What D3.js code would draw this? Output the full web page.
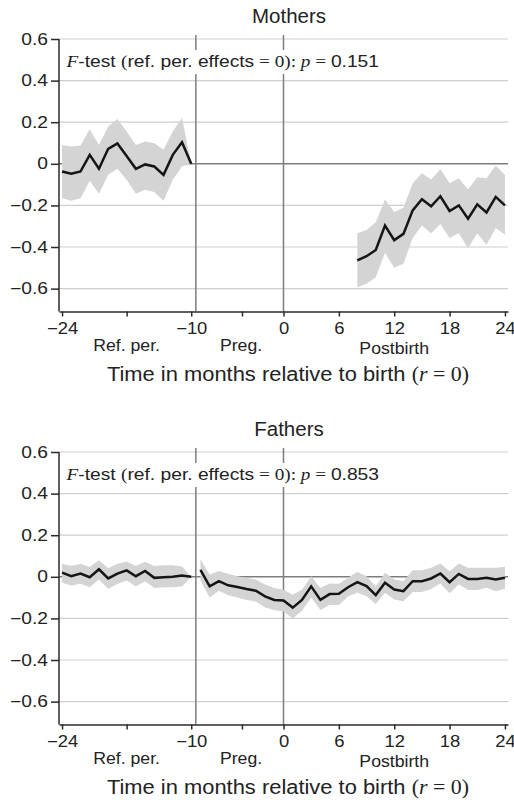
<!DOCTYPE html>
<meta charset="utf-8">
<style>
body { margin: 0; background: #fff; }
svg text { font-family: "Liberation Sans", Arial, sans-serif; fill: #222; }
.grid { stroke: #cfcfcf; stroke-width: 1.2; }
.zero, .vline { stroke: #7d7d7d; stroke-width: 1.5; }
.axis path, .axis line { stroke: #2a2a2a; stroke-width: 1.5; }
.band { fill: #d4d4d4; stroke: none; }
.est { fill: none; stroke: #151515; stroke-width: 2.5; }
.serif { font-family: "Liberation Serif", "Times New Roman", serif; }
</style>
<body>
<script src="https://d3js.org/d3.v7.min.js"></script>
<script>
// months on the x axis
var refMonths = [-24, -23, -22, -21, -20, -19, -18, -17, -16, -15, -14, -13, -12, -11, -10];
var postMonthsMom = [8, 9, 10, 11, 12, 13, 14, 15, 16, 17, 18, 19, 20, 21, 22, 23, 24];
var pregPostMonthsDad = [-9, -8, -7, -6, -5, -4, -3, -2, -1, 0, 1, 2, 3, 4, 5, 6, 7, 8, 9, 10,
  11, 12, 13, 14, 15, 16, 17, 18, 19, 20, 21, 22, 23, 24];

// Mothers, reference period
var momRefEst = [-0.037, -0.048, -0.037, 0.043, -0.024, 0.072, 0.098, 0.038, -0.024, -0.003, -0.013, -0.053, 0.043, 0.104, 0];
var momRefHi  = [0.091, 0.083, 0.088, 0.166, 0.091, 0.179, 0.216, 0.155, 0.091, 0.107, 0.099, 0.067, 0.155, 0.222, 0];
var momRefLo  = [-0.165, -0.178, -0.165, -0.082, -0.144, -0.053, -0.024, -0.077, -0.144, -0.125, -0.136, -0.178, -0.077, -0.013, 0];
// Mothers, postbirth
var momPostEst = [-0.464, -0.444, -0.414, -0.297, -0.367, -0.337, -0.224, -0.170, -0.204, -0.156, -0.227, -0.200, -0.264, -0.195, -0.234, -0.159, -0.200];
var momPostHi  = [-0.334, -0.318, -0.281, -0.172, -0.232, -0.211, -0.094, -0.045, -0.075, -0.026, -0.094, -0.070, -0.123, -0.065, -0.070, -0.008, -0.054];
var momPostLo  = [-0.594, -0.577, -0.545, -0.427, -0.500, -0.480, -0.357, -0.297, -0.334, -0.289, -0.357, -0.334, -0.406, -0.334, -0.389, -0.308, -0.341];

// Fathers, reference period
var dadRefEst = [0.020, 0.003, 0.016, -0.002, 0.036, -0.008, 0.015, 0.031, 0.003, 0.028, -0.005, -0.002, 0, 0.006, 0];
var dadRefHi  = [0.063, 0.052, 0.063, 0.047, 0.080, 0.041, 0.063, 0.073, 0.052, 0.072, 0.052, 0.055, 0.055, 0.050, 0];
var dadRefLo  = [-0.029, -0.042, -0.033, -0.050, -0.013, -0.057, -0.034, -0.018, -0.046, -0.021, -0.054, -0.050, -0.050, -0.046, 0];
// Fathers, pregnancy + postbirth
var dadEst = [0.033, -0.046, -0.021, -0.041, -0.049, -0.059, -0.067, -0.094, -0.111, -0.114, -0.148, -0.111, -0.046, -0.111, -0.083, -0.082, -0.050,
  -0.026, -0.045, -0.088, -0.029, -0.061, -0.069, -0.021, -0.021, -0.008, 0.016, -0.026, 0.014, -0.010, -0.010, -0.005, -0.013, -0.005];
var dadHi = [0.085, 0.011, 0.028, 0.015, 0.003, -0.005, -0.013, -0.037, -0.054, -0.062, -0.086, -0.062, 0.003, -0.054, -0.032, -0.033, -0.005,
  0.024, 0.003, -0.045, 0.019, -0.013, -0.021, 0.031, 0.031, 0.043, 0.064, 0.027, 0.064, 0.043, 0.043, 0.043, 0.043, 0.048];
var dadLo = [-0.018, -0.099, -0.067, -0.089, -0.099, -0.111, -0.119, -0.148, -0.159, -0.167, -0.200, -0.163, -0.099, -0.160, -0.135, -0.135, -0.095,
  -0.076, -0.093, -0.131, -0.077, -0.109, -0.117, -0.073, -0.073, -0.059, -0.032, -0.079, -0.036, -0.063, -0.063, -0.053, -0.069, -0.058];

// ticks and labels
var yTicks = [-0.6, -0.4, -0.2, 0, 0.2, 0.4, 0.6];
var xTicks = [-24, -17, -10, -4.5, 0, 6, 12, 18, 24];
var xLabelled = [-24, -10, 0, 6, 12, 18, 24];
var periodBreaks = [-9.5, 0];
var periodNames = ["Ref. per.", "Preg.", "Postbirth"];
var periodCenters = [-17, -4.6, 12];
var panelTitles = ["Mothers", "Fathers"];
var pValues = ["0.151", "0.853"];

var W = 514, H = 800;
var left = 59, right = 508, plotH = 272.5;
var tops = [39, 452];

var svg = d3.select("body").append("svg").attr("width", W).attr("height", H);

var x = d3.scaleLinear().domain([-24.33, 24.33]).range([left, right]);

// stretch text horizontally (source figure has wide glyphs)
function widen(sel, k) {
  sel.each(function() {
    var w = this.getComputedTextLength();
    d3.select(this).attr("textLength", w * k).attr("lengthAdjust", "spacingAndGlyphs");
  });
}

function fmtY(d) { return d === 0 ? "0" : d3.format(".1f")(d); }
function fmtX(d) { return xLabelled.indexOf(d) < 0 ? "" : d3.format("d")(d); }

function drawPanel(idx, segments) {
  var top = tops[idx], bottom = top + plotH;
  var y = d3.scaleLinear().domain([-0.71, 0.6]).range([bottom, top]);
  var g = svg.append("g");

  // horizontal grid
  g.selectAll(".grid").data(yTicks.filter(function(d) { return d !== 0; }))
    .enter().append("line").attr("class", "grid")
    .attr("x1", left).attr("x2", right)
    .attr("y1", function(d) { return y(d); }).attr("y2", function(d) { return y(d); });
  g.append("line").attr("class", "zero")
    .attr("x1", left).attr("x2", right).attr("y1", y(0)).attr("y2", y(0));

  // period boundaries
  g.selectAll(".vline").data(periodBreaks).enter().append("line").attr("class", "vline")
    .attr("x1", function(d) { return x(d); }).attr("x2", function(d) { return x(d); })
    .attr("y1", top - 4).attr("y2", bottom);

  // bands + lines
  segments.forEach(function(s) {
    var rows = s.months.map(function(m, i) { return {m: m, e: s.est[i], lo: s.lo[i], hi: s.hi[i]}; });
    g.append("path").datum(rows).attr("class", "band")
      .attr("d", d3.area().x(function(d) { return x(d.m); })
        .y0(function(d) { return y(d.lo); }).y1(function(d) { return y(d.hi); }));
    g.append("path").datum(rows).attr("class", "est")
      .attr("d", d3.line().x(function(d) { return x(d.m); }).y(function(d) { return y(d.e); }));
  });

  // F-test note, on a white box
  var note = g.append("text").attr("x", 66.5).attr("y", top + 27.5).style("font-size", "16.5px");
  note.append("tspan").attr("class", "serif").style("font-style", "italic").text("F");
  note.append("tspan").text("-test ");
  note.append("tspan").attr("class", "serif").text("(");
  note.append("tspan").text("ref. per. effects");
  note.append("tspan").attr("class", "serif").text(" = 0): ");
  note.append("tspan").attr("class", "serif").style("font-style", "italic").text("p");
  note.append("tspan").attr("class", "serif").text(" = ");
  note.append("tspan").text(pValues[idx]);
  widen(note, 1.165);
  var bb = note.node().getBBox();
  g.insert("rect", "text").attr("x", bb.x - 2).attr("y", top + 11)
    .attr("width", bb.width + 4).attr("height", 24).attr("fill", "#fff");

  // axes
  var ya = g.append("g").attr("class", "axis").attr("transform", "translate(" + left + ",0)")
    .call(d3.axisLeft(y).tickValues(yTicks).tickFormat(fmtY).tickSize(8).tickSizeOuter(0).tickPadding(3));
  var xa = g.append("g").attr("class", "axis").attr("transform", "translate(0," + bottom + ")")
    .call(d3.axisBottom(x).tickValues(xTicks).tickFormat(fmtX).tickSize(5).tickSizeOuter(0));
  ya.select(".domain").attr("d", "M0," + bottom + "V" + top);
  g.selectAll(".axis text").attr("fill", "#222").style("font-size", "16px")
    .style("font-family", "'Liberation Sans', Arial, sans-serif");
  xa.selectAll("text").attr("y", 22).attr("dy", null);
  widen(ya.selectAll("text"), 1.2);
  widen(xa.selectAll("text"), 1.15);

  // title
  g.append("text").attr("x", 289).attr("y", top - 16).attr("text-anchor", "middle")
    .style("font-size", "20.5px").text(panelTitles[idx]);

  // period names
  var pn = g.selectAll(".pname").data(periodNames).enter().append("text")
    .attr("x", function(d, i) { return x(periodCenters[i]); })
    .attr("y", function(d, i) { return bottom + (i === 2 ? 42 : 39); })
    .attr("text-anchor", "middle").style("font-size", "16.5px")
    .text(function(d) { return d; });
  widen(pn, 1.07);

  // x axis title
  var at = g.append("text").attr("x", 288).attr("y", bottom + 69).attr("text-anchor", "middle")
    .style("font-size", "20px");
  at.append("tspan").text("Time in months relative to birth ");
  at.append("tspan").attr("class", "serif").text("(");
  at.append("tspan").attr("class", "serif").style("font-style", "italic").text("r");
  at.append("tspan").attr("class", "serif").text(" = 0)");
  widen(at, 1.095);
}

drawPanel(0, [
  {months: refMonths, est: momRefEst, lo: momRefLo, hi: momRefHi},
  {months: postMonthsMom, est: momPostEst, lo: momPostLo, hi: momPostHi}
]);
drawPanel(1, [
  {months: refMonths, est: dadRefEst, lo: dadRefLo, hi: dadRefHi},
  {months: pregPostMonthsDad, est: dadEst, lo: dadLo, hi: dadHi}
]);
</script>
</body>
